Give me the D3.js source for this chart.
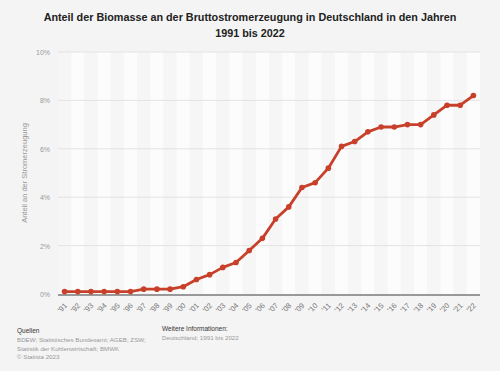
<!DOCTYPE html>
<html>
<head>
<meta charset="utf-8">
<script src="https://cdn.jsdelivr.net/npm/d3@7"></script>
<style>
  html, body { margin: 0; padding: 0; background: #f4f4f4; }
  svg { display: block; font-family: "Liberation Sans", Arial, sans-serif; }
</style>
</head>
<body>
<div id="chart"></div>
<script>
// Anteil der Biomasse an der Bruttostromerzeugung, 1991–2022 (in %)
const years = ["91","92","93","94","95","96","97","98","99","00","01","02","03","04","05","06",
               "07","08","09","10","11","12","13","14","15","16","17","18","19","20","21","22"];
const shares = [0.1, 0.1, 0.1, 0.1, 0.1, 0.1, 0.2, 0.2, 0.2, 0.3, 0.6, 0.8, 1.1, 1.3, 1.8, 2.3,
                3.1, 3.6, 4.4, 4.6, 5.2, 6.1, 6.3, 6.7, 6.9, 6.9, 7.0, 7.0, 7.4, 7.8, 7.8, 8.2];
const yTicks = [0, 2, 4, 6, 8, 10];

const width = 500, height = 371;
const margin = { top: 52, right: 20, bottom: 77, left: 58 };

const svg = d3.select("#chart").append("svg")
  .attr("width", width)
  .attr("height", height);

svg.append("rect")
  .attr("width", width).attr("height", height)
  .attr("fill", "#f4f4f4");

// TITLE
const title = ["Anteil der Biomasse an der Bruttostromerzeugung in Deutschland in den Jahren", "1991 bis 2022"];
title.forEach((t, i) => {
  svg.append("text")
    .attr("x", width / 2)
    .attr("y", 21 + i * 16)
    .attr("text-anchor", "middle")
    .style("font-size", "10.8px")
    .style("font-weight", "bold")
    .style("fill", "#222")
    .text(t);
});

const x = d3.scaleBand()
  .domain(years)
  .range([margin.left, width - margin.right]);

const y = d3.scaleLinear()
  .domain([0, 10])
  .range([height - margin.bottom, margin.top]);

// alternating column stripes
svg.append("g")
  .selectAll("rect")
  .data(years)
  .join("rect")
  .attr("x", d => x(d))
  .attr("y", y(10))
  .attr("width", x.bandwidth())
  .attr("height", y(0) - y(10))
  .attr("fill", (d, i) => i % 2 === 0 ? "#f6f6f6" : "#fcfcfc");

// grid
svg.append("g")
  .selectAll("line")
  .data(yTicks.filter(d => d > 0))
  .join("line")
  .attr("x1", margin.left)
  .attr("x2", width - margin.right)
  .attr("y1", d => y(d))
  .attr("y2", d => y(d))
  .attr("stroke", "#e3e3e3")
  .attr("stroke-width", 1);

// y tick labels
svg.append("g")
  .selectAll("text")
  .data(yTicks)
  .join("text")
  .attr("x", margin.left - 8)
  .attr("y", d => y(d) + 3)
  .attr("text-anchor", "end")
  .style("font-size", "7px")
  .style("fill", "#999")
  .text(d => d + "%");

// y axis title
svg.append("text")
  .attr("transform", `translate(27, ${(y(0) + y(10)) / 2}) rotate(-90)`)
  .attr("text-anchor", "middle")
  .style("font-size", "7.5px")
  .style("fill", "#999")
  .text("Anteil an der Stromerzeugung");

// baseline
svg.append("line")
  .attr("x1", margin.left)
  .attr("x2", width - margin.right)
  .attr("y1", y(0) + 1)
  .attr("y2", y(0) + 1)
  .attr("stroke", "#999")
  .attr("stroke-width", 2);

// x tick labels
svg.append("g")
  .selectAll("text")
  .data(years)
  .join("text")
  .attr("transform", d => `translate(${x(d) + x.bandwidth() / 2 + 3}, ${y(0) + 12}) rotate(-45)`)
  .attr("text-anchor", "end")
  .style("font-size", "7.5px")
  .style("fill", "#777")
  .text(d => "'" + d);

// line + markers
const line = d3.line()
  .x((d, i) => x(years[i]) + x.bandwidth() / 2)
  .y(d => y(d));

svg.append("path")
  .datum(shares)
  .attr("d", line)
  .attr("fill", "none")
  .attr("stroke", "#c8402a")
  .attr("stroke-width", 2.8)
  .attr("stroke-linejoin", "round");

svg.append("g")
  .selectAll("circle")
  .data(shares)
  .join("circle")
  .attr("cx", (d, i) => x(years[i]) + x.bandwidth() / 2)
  .attr("cy", d => y(d))
  .attr("r", 2.8)
  .attr("fill", "#c8402a");

// FOOTER
const srcLines = ["BDEW; Statistisches Bundesamt; AGEB; ZSW;", "Statistik der Kohlenwirtschaft; BMWK", "© Statista 2023"];
svg.append("text")
  .attr("x", 17).attr("y", 333)
  .style("font-size", "6.5px")
  .style("fill", "#333")
  .text("Quellen");
srcLines.forEach((t, i) => {
  svg.append("text")
    .attr("x", 17).attr("y", 342 + i * 8.7)
    .style("font-size", "6.2px")
    .style("fill", "#999")
    .text(t);
});

svg.append("text")
  .attr("x", 162).attr("y", 331)
  .style("font-size", "6.5px")
  .style("fill", "#333")
  .text("Weitere Informationen:");
svg.append("text")
  .attr("x", 162).attr("y", 340)
  .style("font-size", "6.2px")
  .style("fill", "#999")
  .text("Deutschland; 1991 bis 2022");
</script>
</body>
</html>
